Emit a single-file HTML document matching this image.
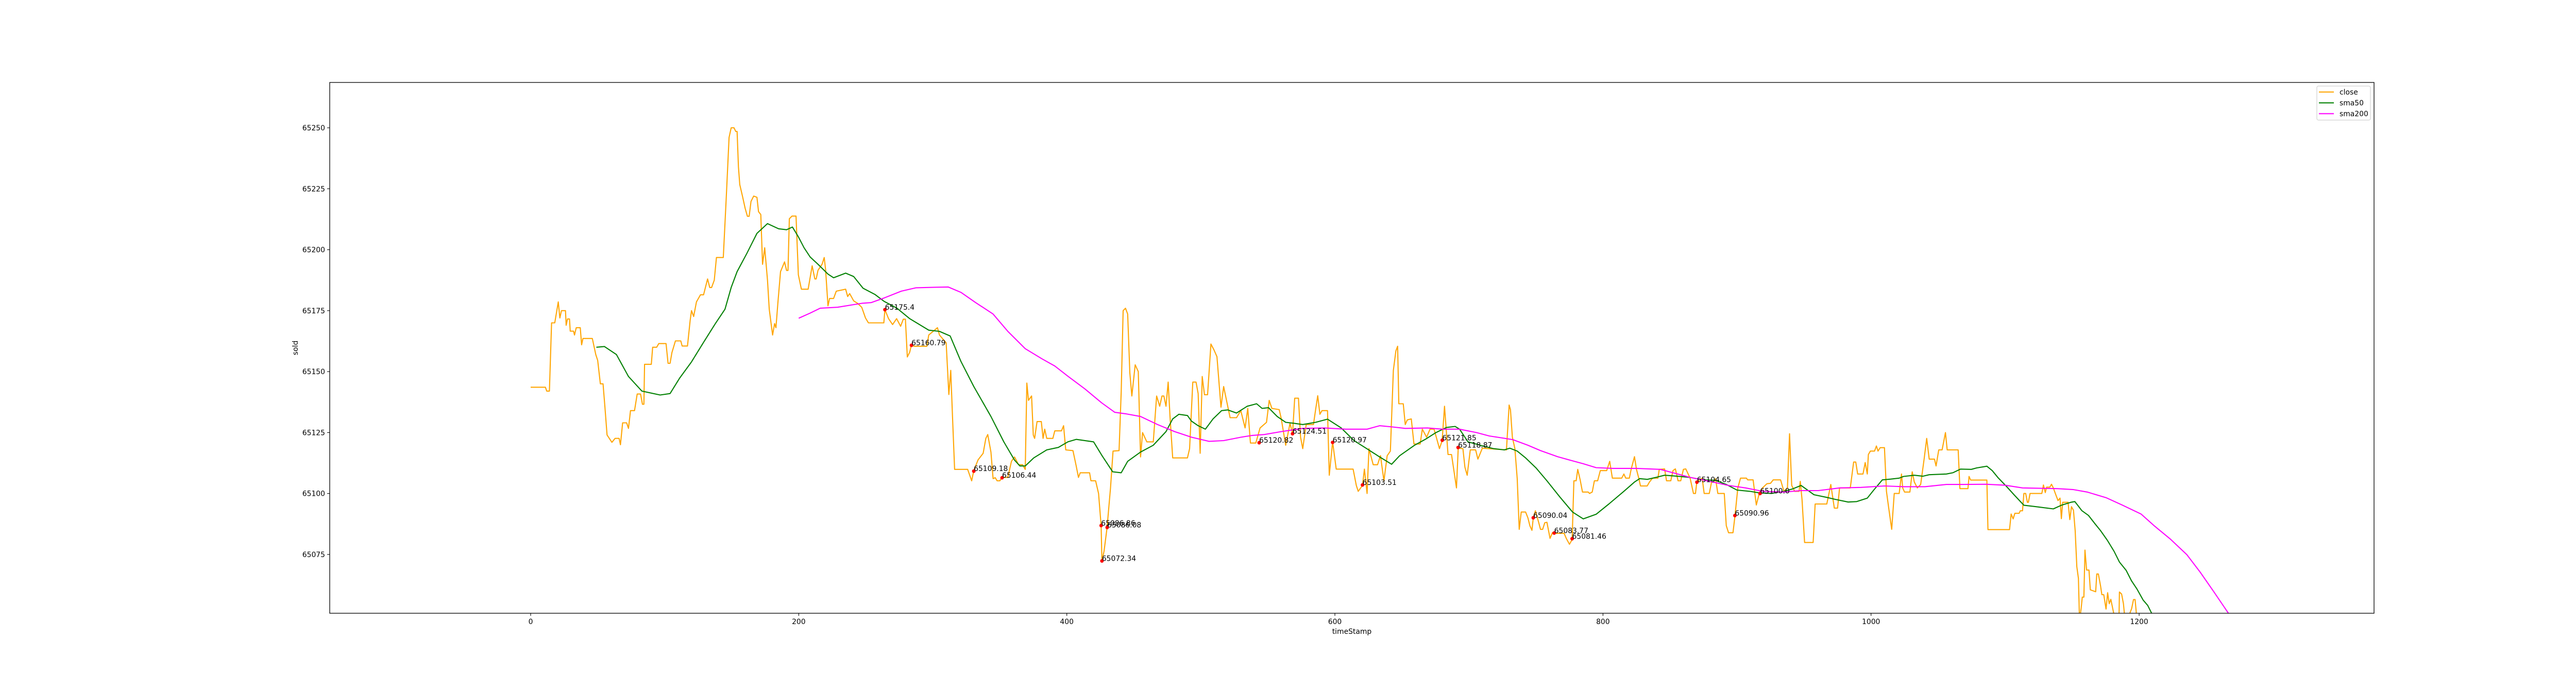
<!DOCTYPE html>
<html><head><meta charset="utf-8"><style>
html,body{margin:0;padding:0;background:#fff;}
svg{display:block;font-family:"DejaVu Sans","Liberation Sans",sans-serif;}
</style></head><body>
<svg id="chart" width="5120" height="1337" viewBox="0 0 5120 1337" xmlns="http://www.w3.org/2000/svg">
<defs><clipPath id="plotclip"><rect x="640" y="160" width="3968" height="1030"/></clipPath></defs>
<rect x="0" y="0" width="5120" height="1337" fill="#fff"/>
<g id="series" clip-path="url(#plotclip)"></g>
<g id="axes"></g>
</svg>
<script>
const xTicks = [0, 200, 400, 600, 800, 1000, 1200];
const yTicks = [65075, 65100, 65125, 65150, 65175, 65200, 65225, 65250];
const closeSeries = [[0,65143.6],[11,65143.6],[12,65142],[14,65142],[15.6,65170],[18,65170],[20.6,65178.6],[21.8,65172],[23,65175],[26,65175],[26.5,65169],[27.5,65171.6],[29,65171.6],[29.5,65166.6],[32,65166.6],[32.7,65165],[34,65168],[37,65168],[38,65161],[39,65163.6],[46,65163.6],[48.6,65157],[50,65154.6],[52,65145],[54,65145],[55.4,65135.6],[57,65124],[60.6,65121],[63,65122.6],[66,65122.6],[67,65120],[68.6,65129],[71.6,65129],[73,65126.7],[74.5,65134],[77.5,65134],[79.5,65140.8],[82,65140.8],[83.4,65136.6],[84.5,65136.6],[85,65153],[90,65153],[91,65160],[94,65160],[95.6,65161.5],[101,65161.5],[102.5,65153.4],[104,65153.4],[105.4,65157.8],[108,65162.6],[112,65162.6],[113,65160.5],[117,65160.5],[119,65171],[120,65175],[121.6,65172.6],[123.7,65178.6],[126.7,65181.5],[129,65181.5],[132,65188],[133.6,65184.5],[135,65184.5],[137,65187.5],[138.6,65196.8],[143.7,65196.8],[146,65222],[148,65246],[149.6,65250],[151.7,65250],[153,65248.5],[154,65248.5],[155,65234],[156,65226.7],[158,65222],[160,65217],[161.7,65213.7],[163,65213.7],[164.4,65219.8],[166.4,65222],[168.8,65221.5],[170,65215.6],[171.7,65214.4],[173,65194],[174.6,65200.8],[176.7,65187.5],[178,65175.6],[180.5,65165],[182,65169.7],[183,65168],[184.4,65178],[186.4,65191],[189.4,65195],[190.9,65191.5],[192,65191.5],[193,65212.7],[195,65213.8],[198,65213.8],[199.7,65189.7],[202,65183.8],[207,65183.8],[210,65193.4],[212,65188],[213,65188],[214.4,65191.6],[217.4,65194],[219,65196.8],[220,65192],[221.8,65177],[223,65180],[226,65180],[228,65183],[235,65183.8],[236.5,65180.8],[238,65182],[241,65179],[243.9,65178],[247,65176.4],[249.8,65172],[252,65170],[263.5,65170],[264.3,65175.4],[267,65171.7],[270,65169.3],[273,65171.7],[276,65168.6],[278,65171.5],[279.6,65171.5],[281,65156],[282.8,65158],[284,65160.8],[286,65160.4],[295.6,65160.4],[297,65165],[303.5,65168],[305,65165],[310,65161.8],[312,65140.6],[313.4,65150.5],[314.7,65131.6],[316.3,65109.9],[326,65109.9],[329,65105.2],[330.6,65109.4],[333.8,65113.8],[337.6,65116.5],[339.6,65122.6],[341,65124.2],[343.4,65117],[345,65106.1],[346.6,65106.5],[348,65105.2],[350,65105.2],[351.7,65106.6],[356,65106.6],[358.7,65113.2],[361,65115],[364,65111.8],[367,65111.8],[369,65109.9],[370.2,65145.3],[371.4,65138.2],[373.7,65140],[375,65124],[376,65122.6],[377.8,65129.5],[381,65129.5],[382.3,65122.6],[383.5,65126.4],[385,65122.6],[389.6,65122.6],[391,65125.7],[396,65125.7],[397.6,65127.8],[399.2,65117.9],[404.6,65117.6],[407,65111.3],[408.7,65106.6],[410,65108.5],[417,65108.5],[418,65105.2],[421.5,65105.2],[423.7,65100],[425.6,65086.8],[426.2,65072.3],[427.8,65076.4],[430,65085.8],[432.6,65102.3],[434.5,65117.4],[439,65117.6],[440.6,65142],[442,65175],[443.8,65176],[445.4,65173.6],[447,65149.5],[448.5,65140],[451,65152.8],[453.3,65150],[455,65115],[456.5,65125],[459.7,65121.2],[464.5,65121.2],[467,65140],[469.3,65135.8],[471,65140],[472.4,65140],[474,65135.8],[475.6,65145.7],[477,65131.6],[479,65114.6],[490,65114.6],[491.6,65118.4],[494,65145.7],[496.4,65145.7],[498,65141],[499.5,65116.5],[501,65148],[502.7,65140.5],[505,65140.5],[507.5,65161.3],[509.7,65159],[512,65156.1],[515,65135.4],[517,65143.9],[520.2,65135.4],[521.8,65131.1],[526.6,65131.1],[529.8,65134],[533,65126.9],[535,65134.9],[537,65120.7],[541,65120.7],[544.2,65126.9],[549,65129.2],[551,65138.2],[553,65134.9],[558.5,65134.4],[560,65130.6],[563.3,65119.8],[566.5,65128.8],[568.4,65124.5],[570,65139.1],[572.8,65139.1],[574.4,65123.1],[576,65118.4],[578.6,65128.3],[584,65128.3],[585.6,65134.4],[587.2,65140.1],[588.8,65132.5],[590.4,65134],[594.5,65134],[595.8,65107.5],[598.3,65121.2],[601,65110],[613.6,65110],[616,65103.3],[617.4,65100.9],[620.6,65103.3],[622,65110],[624,65100],[625.4,65118.4],[628.6,65111.8],[631.8,65111.8],[634,65115.5],[636.6,65105.2],[639,65115.5],[641.4,65117.4],[643.6,65150.5],[645.5,65158.5],[646.8,65160.4],[647.7,65136.8],[651,65136.8],[652.5,65128.3],[654,65130.2],[657,65130.6],[659,65120.3],[663.6,65120.3],[665.2,65126.4],[668.4,65123.1],[671,65126.4],[674,65126.4],[678,65118.4],[680,65121.7],[681.8,65135.8],[684.4,65116],[687,65116],[690.7,65102.3],[692,65118.6],[695.5,65118.4],[697,65110.8],[698.7,65107.5],[701,65117.9],[705,65117.9],[706.7,65114.1],[710,65118.6],[728,65117.9],[730,65136.3],[731,65134.4],[732.4,65123.1],[734.3,65118.4],[736,65106.1],[737.5,65085.3],[739,65092.4],[742.3,65092.4],[744,65090],[745.5,65086.7],[747,65084.9],[748,65090.1],[749.6,65092.9],[752,65088.2],[753.4,65085.3],[755,65085.3],[756.6,65088],[758.2,65088.2],[760.5,65081.6],[762.4,65084],[763.6,65083.7],[771,65083.7],[772.6,65081.6],[775,65079.2],[777,65081.1],[778.3,65105.2],[780,65105.2],[781.2,65109.9],[783,65105.6],[784.7,65100.6],[789,65100.6],[790,65100],[792,65100.6],[793.6,65105.2],[796,65105.2],[798,65109.4],[802.8,65109.4],[805,65113.2],[807,65106.3],[814,65106.3],[815.6,65108],[817,65106.3],[819.7,65106.3],[821,65109.9],[823.5,65115.1],[825,65109.9],[826.7,65106.3],[828,65103.1],[833,65103.1],[834.7,65104.7],[837,65106.3],[841,65106.3],[842,65109.9],[846,65110.1],[847.4,65105.2],[850.6,65105.2],[852.2,65109.4],[854,65110.1],[856,65105.2],[858,65105.2],[860,65109.9],[861.8,65110.1],[865,65106.3],[867.5,65100],[869,65100],[870,65104.7],[874,65106.3],[875.5,65100],[879.3,65100],[881,65104.7],[882.5,65104.7],[884,65106.1],[885.7,65100],[890.5,65100],[892,65086.8],[893.7,65083.9],[897,65083.9],[898.4,65090.5],[900.6,65102.3],[902.6,65106.3],[907,65106.3],[908,65105.6],[912,65105.6],[914.4,65095.3],[916.6,65100],[919,65102.3],[922.3,65104],[925,65104.2],[927,65105.6],[932.5,65105.6],[935,65100.9],[937.6,65102.3],[939.2,65124.5],[940.8,65103.3],[943,65100.9],[946.3,65100.9],[947.2,65105],[948.5,65097.6],[950.4,65079.9],[956.8,65079.9],[958.3,65095.7],[967,65095.7],[970,65103.7],[972.6,65094],[975,65094],[976.5,65102.3],[984.5,65102.3],[987,65112.9],[988.6,65112.9],[990,65108],[994,65108],[995.6,65112.7],[997.2,65108],[998,65116],[999.5,65117.4],[1002.6,65117.4],[1004,65119.5],[1005.2,65117.4],[1006.8,65118.8],[1010,65118.8],[1011.5,65100.9],[1013,65094.8],[1015.4,65085.3],[1017.3,65100],[1021,65100],[1022.7,65108],[1023.6,65102.3],[1025,65100.6],[1029,65100.6],[1030.7,65108.9],[1032.3,65104.7],[1034.5,65102.3],[1037,65103.7],[1039.6,65114.1],[1041.5,65122.6],[1043.4,65114.1],[1047.3,65114.1],[1048.5,65111.3],[1050.5,65117.9],[1053,65117.9],[1055.5,65125],[1056.8,65117.9],[1065,65117.9],[1066.3,65102],[1072.3,65102],[1073.1,65107],[1074.3,65105.5],[1086.4,65105.5],[1087.2,65085.2],[1103.3,65085.2],[1104.5,65091.6],[1106,65089.6],[1107.3,65091.9],[1110.5,65091.9],[1111.3,65092.9],[1113,65092.9],[1114,65100],[1115.4,65100],[1116.6,65096.4],[1117.4,65096.4],[1118.6,65100],[1127.4,65100],[1128.6,65103.5],[1130,65100.4],[1131,65102.6],[1133.4,65102.6],[1134.6,65103.8],[1136,65102.3],[1137.5,65100],[1139.5,65097.1],[1141,65098.1],[1142,65089.7],[1143,65096.4],[1147,65096.4],[1148.3,65089.3],[1149.5,65094.6],[1151,65093.1],[1152.3,65084.8],[1153.5,65070],[1154.7,65065.2],[1155.5,65048],[1156.8,65053],[1157.6,65057.5],[1158.8,65057.5],[1159.6,65076.8],[1160.8,65068.6],[1162.6,65068.6],[1163.6,65060.5],[1167.6,65059.7],[1168.4,65067],[1169.6,65067],[1171.2,65062.2],[1172.2,65058.5],[1173.6,65058.5],[1175.3,65052.6],[1176.5,65059.3],[1177.7,65054.8],[1178.9,65056.6],[1180.5,65052.3],[1181.7,65049],[1185,65049],[1185.3,65059.6],[1186.9,65058.8],[1188.3,65054.8],[1189.3,65049],[1191,65048],[1194.4,65052.8],[1195.8,65056.5],[1197,65056.5],[1198.4,65048],[1205,65042],[1220,65038],[1240,65035],[1266,65030]];
const sma50Series = [[49,65160],[55,65160.3],[64,65157],[73,65148],[83,65142],[96.6,65140.4],[104,65141],[111,65147.2],[120,65154],[129,65162],[137.8,65169.7],[145,65175.6],[149.6,65184.5],[154,65191],[161.4,65198.6],[168.8,65206.7],[176.7,65210.7],[185,65208.6],[190.9,65208.2],[195.3,65209.3],[199.7,65205.3],[204,65200.8],[208.5,65197],[214.4,65194],[221.8,65190],[226,65188.5],[235,65190.4],[241,65189],[248,65184.2],[257,65181.6],[263.7,65178.8],[273.3,65176],[282.8,65171.7],[297,65167],[305,65166.5],[313,65164.6],[321,65154.2],[330.6,65143.9],[343.4,65131.6],[353,65121.2],[361,65113.7],[365,65111.3],[369,65111.3],[375.3,65114.6],[385,65117.9],[393.7,65118.9],[400.8,65121.2],[407,65122.2],[420,65121.2],[426.3,65115.5],[434.2,65108.9],[440.6,65108.5],[445.4,65113.2],[455,65117],[464.5,65119.8],[474,65125.4],[479,65130.6],[483.6,65132.5],[490,65132],[493,65129.7],[498,65127.8],[503.4,65126.4],[509.1,65130.6],[515.5,65134],[520,65134.3],[526.6,65133],[534.6,65135.8],[541.6,65136.8],[545.7,65134.9],[550.5,65135.2],[557,65131.6],[563.3,65129.2],[569.6,65128.8],[576,65128.3],[585.6,65129.2],[594.5,65130.5],[604.7,65126.9],[614.3,65121.7],[623.8,65118.4],[633.4,65115],[642.3,65112],[648.3,65115.5],[659.4,65119.8],[667.4,65122.2],[675.4,65125],[683.3,65127.1],[689.7,65127.5],[693,65126.4],[699.3,65121.2],[710.4,65119.5],[718.4,65118.4],[726.4,65117.9],[730.5,65118.6],[736,65117.4],[742.3,65114.6],[750.2,65110.4],[758.2,65105.2],[767.8,65098.6],[777.3,65092.4],[785.3,65089.6],[794.9,65091.5],[804.4,65095.7],[815.6,65100.9],[823.5,65104.7],[827.4,65106.1],[833.1,65105.8],[839.5,65106.6],[846,65107.5],[855.4,65107.1],[865,65106.6],[874.5,65105.6],[884,65105.4],[892,65103.7],[900,65101.4],[909.6,65100.9],[916,65100.3],[925.5,65100],[935,65100.9],[941.5,65101.9],[947.8,65103.3],[952.6,65101.4],[957.4,65099.5],[967,65098.4],[973.3,65097.6],[982.9,65096.5],[989.3,65096.7],[997.2,65098.1],[1002,65101.4],[1008.4,65105.6],[1014.7,65105.9],[1021,65106.3],[1024.3,65107],[1032.3,65107.5],[1038.6,65107.1],[1043.4,65107.7],[1056.2,65108],[1061,65108.5],[1066.7,65110],[1074.8,65109.9],[1078.8,65110.5],[1086.4,65111.2],[1090.4,65109.4],[1094.9,65106.4],[1100.9,65103],[1107,65099.3],[1114,65095.2],[1123,65094.6],[1136,65093.7],[1142,65095.2],[1149,65096.4],[1152,65096.7],[1154,65095.3],[1157.2,65093],[1162.2,65091],[1167.2,65087.5],[1171.2,65084.8],[1176.3,65080.8],[1181.3,65076.3],[1185.3,65071.9],[1190.3,65068.5],[1194.3,65064.2],[1198.4,65060.8],[1203,65056.3],[1206.4,65054.1],[1209.4,65050.8],[1216,65044]];
const sma200Series = [[200,65171.9],[208.5,65174],[216,65176],[229,65176.4],[247,65178],[254,65178.3],[263.7,65180.2],[276.5,65183],[287.6,65184.4],[302,65184.6],[311.5,65184.7],[321,65182.5],[332,65178.3],[345,65173.6],[356,65166.5],[369,65159.4],[381.6,65155.2],[391,65152.3],[400.8,65148.1],[413.5,65142.9],[426,65137.2],[435.8,65133.3],[443.8,65132.7],[455,65131.6],[467.7,65128.3],[480.4,65125.4],[493,65123.1],[506,65121.4],[517,65121.7],[530,65123.1],[537.8,65123.8],[547.4,65124.2],[560,65125.4],[576,65126.7],[592,65126.9],[608,65126.4],[624,65126.4],[633.4,65127.8],[643,65127.3],[652.5,65126.7],[669,65126.9],[680.1,65126.4],[692.9,65126.4],[705.6,65125],[715.2,65123.6],[732.7,65122.1],[744,65119.8],[753.4,65117.6],[766.2,65115.1],[777.3,65113.4],[785.3,65112.2],[794.9,65110.6],[807.6,65110.3],[825.1,65110.3],[842.7,65109.9],[852.2,65108.5],[865,65106.6],[877.7,65105.2],[893.7,65103.3],[906.4,65102.3],[919.1,65100.9],[935.1,65100.6],[947.8,65101.2],[960.6,65101.2],[976.5,65102.3],[992.4,65102.5],[1010,65103.1],[1024.3,65102.8],[1040.2,65102.8],[1056.2,65103.7],[1069,65103.7],[1085.8,65103.8],[1100,65103.4],[1113,65102.3],[1139,65102],[1151.1,65101.6],[1161.2,65100.6],[1175.3,65098.3],[1187.3,65095.3],[1201.4,65091.6],[1211.4,65086.7],[1223.5,65081.2],[1235.6,65074.9],[1245.6,65067.7],[1255.7,65059.7],[1266.7,65050.8],[1270,65048]];
const annoIdx = [264.3, 284.1, 330.6, 351.7, 425.6, 426.2, 430.1, 543.5, 568.4, 598.3, 620.6, 680.1, 691.9, 748.0, 763.6, 777.0, 870.1, 898.4, 917.2];
const annoVal = [65175.4, 65160.79, 65109.18, 65106.44, 65086.86, 65072.34, 65086.08, 65120.82, 65124.51, 65120.97, 65103.51, 65121.85, 65118.87, 65090.04, 65083.77, 65081.46, 65104.65, 65090.96, 65100.0];
const annoLabel = ["65175.4","65160.79","65109.18","65106.44","65086.86","65072.34","65086.08","65120.82","65124.51","65120.97","65103.51","65121.85","65118.87","65090.04","65083.77","65081.46","65104.65","65090.96","65100.0"];

const NS = "http://www.w3.org/2000/svg";
const PL = 640, PR = 4608, PT = 160, PB = 1190;
function xs(i){ return 1030 + i * 2.6017; }
function ys(v){ return 248 + (65250 - v) * 4.731; }
function mk(tag, attrs, parent){
  const e = document.createElementNS(NS, tag);
  for (const k in attrs) e.setAttribute(k, attrs[k]);
  parent.appendChild(e);
  return e;
}
const series = document.getElementById('series');
const axes = document.getElementById('axes');

function drawLine(pts, color, name){
  const d = pts.map((p, k) => (k ? 'L' : 'M') + xs(p[0]).toFixed(1) + ' ' + ys(p[1]).toFixed(1)).join(' ');
  const p = mk('path', {d: d, fill: 'none', stroke: color, 'stroke-width': 2.1, 'stroke-linejoin': 'round'}, series);
  
  
}
drawLine(closeSeries, '#ffa500', 'close-line');
drawLine(sma50Series, '#008000', 'sma50-line');
drawLine(sma200Series, '#ff00ff', 'sma200-line');

for (let k = 0; k < annoIdx.length; k++) {
  const c = mk('circle', {cx: xs(annoIdx[k]), cy: ys(annoVal[k]), r: 3.5, fill: '#ff0000'}, series);
  
  
  const t = mk('text', {x: xs(annoIdx[k]), y: ys(annoVal[k]), 'font-size': 13.9, fill: '#000'}, series);
  
  
  t.textContent = annoLabel[k];
}

const frame = mk('rect', {x: PL, y: PT, width: PR - PL, height: PB - PT, fill: 'none', stroke: '#000', 'stroke-width': 1.3}, axes);



xTicks.forEach(v => {
  const x = xs(v);
  const tk = mk('line', {x1: x, x2: x, y1: PB, y2: PB + 5, stroke: '#000', 'stroke-width': 1.1}, axes);
  
  
  const t = mk('text', {x: x, y: 1211, 'font-size': 13.9, 'text-anchor': 'middle'}, axes);
  
  
  t.textContent = v;
});
yTicks.forEach(v => {
  const y = ys(v);
  const tk = mk('line', {x1: PL - 5, x2: PL, y1: y, y2: y, stroke: '#000', 'stroke-width': 1.1}, axes);
  
  
  const t = mk('text', {x: PL - 9, y: y + 5, 'font-size': 13.9, 'text-anchor': 'end'}, axes);
  
  
  t.textContent = v;
});

const xl = mk('text', {x: 2624, y: 1230, 'font-size': 13.9, 'text-anchor': 'middle'}, axes);


xl.textContent = 'timeStamp';
const yl = mk('text', {x: 578, y: 675, 'font-size': 13.9, 'text-anchor': 'middle', transform: 'rotate(-90 578 675)'}, axes);


yl.textContent = 'sold';

const legendNames = ['close', 'sma50', 'sma200'];
const legendColors = ['#ffa500', '#008000', '#ff00ff'];
const lg = mk('g', {}, axes);


const lb = mk('rect', {x: 4497, y: 167, width: 104, height: 66, rx: 3, fill: '#fff', stroke: '#d0d0d0', 'stroke-width': 1.2}, lg);


legendNames.forEach((n, k) => {
  const y = 178.6 + k * 21;
  const ln = mk('line', {x1: 4501, x2: 4530, y1: y, y2: y, stroke: legendColors[k], 'stroke-width': 2.1}, lg);
  
  
  const t = mk('text', {x: 4541, y: y + 5, 'font-size': 13.9}, lg);
  
  
  t.textContent = n;
});
</script>
</body></html>
